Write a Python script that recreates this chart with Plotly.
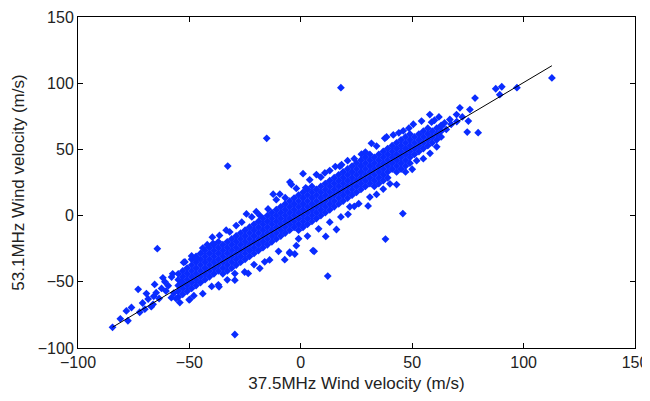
import plotly.graph_objects as go

# wind velocity pairs (m/s): 37.5MHz on x, 53.1MHz on y
# dense central band (solid in the picture), one column of points every 2 m/s
core_pts = [
    (-55, -61.6), (-55, -57.2), (-55, -52.8), (-55, -48.4), (-55, -44.0),
    (-53, -59.4), (-53, -55.0), (-53, -50.6), (-53, -46.2), (-53, -41.8),
    (-51, -57.2), (-51, -52.8), (-51, -48.4), (-51, -44.0), (-51, -39.6),
    (-49, -55.0), (-49, -50.6), (-49, -46.2), (-49, -41.8), (-49, -37.4), (-49, -33.0),
    (-47, -52.8), (-47, -48.4), (-47, -44.0), (-47, -39.6), (-47, -35.2), (-47, -30.8),
    (-45, -50.6), (-45, -46.2), (-45, -41.8), (-45, -37.4), (-45, -33.0), (-45, -28.6),
    (-43, -48.4), (-43, -44.0), (-43, -39.6), (-43, -35.2), (-43, -30.8), (-43, -26.4),
    (-41, -46.2), (-41, -41.8), (-41, -37.4), (-41, -33.0), (-41, -28.6), (-41, -24.2),
    (-39, -44.0), (-39, -39.6), (-39, -35.2), (-39, -30.8), (-39, -26.4), (-39, -22.0),
    (-37, -41.8), (-37, -37.4), (-37, -33.0), (-37, -28.6), (-37, -24.2), (-37, -19.8),
    (-35, -44.0), (-35, -39.6), (-35, -35.2), (-35, -30.8), (-35, -26.4), (-35, -22.0),
    (-33, -41.8), (-33, -37.4), (-33, -33.0), (-33, -28.6), (-33, -24.2), (-33, -19.8),
    (-31, -39.6), (-31, -35.2), (-31, -30.8), (-31, -26.4), (-31, -22.0), (-31, -17.6),
    (-29, -37.4), (-29, -33.0), (-29, -28.6), (-29, -24.2), (-29, -19.8), (-29, -15.4),
    (-27, -35.2), (-27, -30.8), (-27, -26.4), (-27, -22.0), (-27, -17.6), (-27, -13.2),
    (-25, -33.0), (-25, -28.6), (-25, -24.2), (-25, -19.8), (-25, -15.4), (-25, -11.0),
    (-23, -30.8), (-23, -26.4), (-23, -22.0), (-23, -17.6), (-23, -13.2), (-23, -8.8),
    (-21, -28.6), (-21, -24.2), (-21, -19.8), (-21, -15.4), (-21, -11.0), (-21, -6.6),
    (-19, -26.4), (-19, -22.0), (-19, -17.6), (-19, -13.2), (-19, -8.8), (-19, -4.4),
    (-17, -24.2), (-17, -19.8), (-17, -15.4), (-17, -11.0), (-17, -6.6), (-17, -2.2),
    (-15, -22.0), (-15, -17.6), (-15, -13.2), (-15, -8.8), (-15, -4.4), (-15, 0.0),
    (-13, -19.8), (-13, -15.4), (-13, -11.0), (-13, -6.6), (-13, -2.2), (-13, 2.2),
    (-11, -17.6), (-11, -13.2), (-11, -8.8), (-11, -4.4), (-11, 0.0), (-11, 4.4),
    (-9, -15.4), (-9, -11.0), (-9, -6.6), (-9, -2.2), (-9, 2.2), (-9, 6.6),
    (-7, -13.2), (-7, -8.8), (-7, -4.4), (-7, 0.0), (-7, 4.4), (-7, 8.8),
    (-5, -11.0), (-5, -6.6), (-5, -2.2), (-5, 2.2), (-5, 6.6), (-5, 11.0),
    (-3, -8.8), (-3, -4.4), (-3, 0.0), (-3, 4.4), (-3, 8.8), (-3, 13.2),
    (-1, -11.0), (-1, -6.6), (-1, -2.2), (-1, 2.2), (-1, 6.6), (-1, 11.0), (-1, 15.4),
    (1, -8.8), (1, -4.4), (1, 0.0), (1, 4.4), (1, 8.8), (1, 13.2), (1, 17.6),
    (3, -6.6), (3, -2.2), (3, 2.2), (3, 6.6), (3, 11.0), (3, 15.4), (3, 19.8),
    (5, -4.4), (5, 0.0), (5, 4.4), (5, 8.8), (5, 13.2), (5, 17.6), (5, 22.0),
    (7, -2.2), (7, 2.2), (7, 6.6), (7, 11.0), (7, 15.4), (7, 19.8),
    (9, 0.0), (9, 4.4), (9, 8.8), (9, 13.2), (9, 17.6), (9, 22.0),
    (11, 2.2), (11, 6.6), (11, 11.0), (11, 15.4), (11, 19.8), (11, 24.2),
    (13, 4.4), (13, 8.8), (13, 13.2), (13, 17.6), (13, 22.0), (13, 26.4),
    (15, 6.6), (15, 11.0), (15, 15.4), (15, 19.8), (15, 24.2), (15, 28.6),
    (17, 8.8), (17, 13.2), (17, 17.6), (17, 22.0), (17, 26.4), (17, 30.8),
    (19, 11.0), (19, 15.4), (19, 19.8), (19, 24.2), (19, 28.6), (19, 33.0),
    (21, 13.2), (21, 17.6), (21, 22.0), (21, 26.4), (21, 30.8), (21, 35.2),
    (23, 15.4), (23, 19.8), (23, 24.2), (23, 28.6), (23, 33.0), (23, 37.4),
    (25, 17.6), (25, 22.0), (25, 26.4), (25, 30.8), (25, 35.2), (25, 39.6),
    (27, 19.8), (27, 24.2), (27, 28.6), (27, 33.0), (27, 37.4), (27, 41.8),
    (29, 22.0), (29, 26.4), (29, 30.8), (29, 35.2), (29, 39.6), (29, 44.0),
    (31, 24.2), (31, 28.6), (31, 33.0), (31, 37.4), (31, 41.8), (31, 46.2),
    (33, 22.0), (33, 26.4), (33, 30.8), (33, 35.2), (33, 39.6), (33, 44.0),
    (35, 24.2), (35, 28.6), (35, 33.0), (35, 37.4), (35, 41.8), (35, 46.2),
    (37, 26.4), (37, 30.8), (37, 35.2), (37, 39.6), (37, 44.0), (37, 48.4),
    (39, 28.6), (39, 33.0), (39, 37.4), (39, 41.8), (39, 46.2), (39, 50.6),
    (41, 35.2), (41, 39.6), (41, 44.0), (41, 48.4), (41, 52.8),
    (43, 33.0), (43, 37.4), (43, 41.8), (43, 46.2), (43, 50.6), (43, 55.0),
    (45, 35.2), (45, 39.6), (45, 44.0), (45, 48.4), (45, 52.8), (45, 57.2),
    (47, 37.4), (47, 41.8), (47, 46.2), (47, 50.6), (47, 55.0), (47, 59.4),
    (49, 39.6), (49, 44.0), (49, 48.4), (49, 52.8), (49, 57.2), (49, 61.6),
    (51, 46.2), (51, 50.6), (51, 55.0), (51, 59.4),
    (53, 48.4), (53, 52.8), (53, 57.2), (53, 61.6),
    (55, 50.6), (55, 55.0), (55, 59.4), (55, 63.8),
    (57, 52.8), (57, 57.2), (57, 61.6), (57, 66.0),
    (59, 55.0), (59, 59.4), (59, 63.8),
    (61, 57.2), (61, 61.6), (61, 66.0),
    (63, 59.4), (63, 63.8), (63, 68.2),
]

# ragged edges of the cloud and the sparse tails
edge_pts = [
    (-84.5, -84.4), (-81.0, -78.0), (-78.3, -72.0), (-77.6, -79.4), (-76.0, -69.4),
    (-73.0, -55.7), (-72.3, -73.0), (-71.0, -66.0), (-70.0, -70.7), (-69.3, -58.9),
    (-68.5, -63.0), (-67.1, -68.8), (-66.3, -67.0), (-66.0, -61.0), (-65.6, -52.0),
    (-64.9, -58.2), (-63.6, -62.6), (-62.5, -55.0), (-61.9, -47.0), (-61.0, -50.0),
    (-60.5, -57.0), (-59.5, -53.0), (-58.1, -62.0), (-58.0, -46.4), (-57.5, -44.0),
    (-57.0, -58.5), (-56.0, -62.6), (-54.3, -65.7), (-53.6, -50.7), (-52.6, -35.4),
    (-50.1, -63.6), (-49.8, -63.2), (-48.0, -60.5), (-44.0, -59.0), (-40.0, -53.5),
    (-37.0, -52.3), (-36.7, -53.8), (-33.0, -48.5), (-29.6, -48.8), (-29.6, -43.8),
    (-25.2, -42.6), (-23.6, -43.7), (-21.0, -37.0), (-18.4, -39.8), (-16.2, -34.9),
    (-14.0, -33.5), (-10.0, -27.0), (-7.2, -33.3), (-5.0, -27.7), (-4.9, -28.6),
    (-2.7, -29.0), (-2.0, -22.7), (-1.0, -17.5), (3.0, -15.5), (5.5, -26.4),
    (6.0, -27.0), (8.0, -10.0), (11.2, -15.7), (13.0, -5.0), (16.0, -10.5),
    (18.0, -1.0), (21.2, 1.0), (22.0, 6.7), (24.0, 7.0), (26.0, 9.0),
    (30.2, 7.3), (31.0, 14.0), (34.0, 16.0), (37.0, 20.0), (40.0, 24.0),
    (43.0, 23.4), (47.0, 33.0), (50.0, 35.0), (52.0, 41.5), (55.0, 43.0),
    (58.0, 47.0), (61.0, 52.0),
    (-52.0, -35.0), (-49.0, -30.5), (-46.9, -32.4), (-44.0, -24.5), (-42.0, -22.0),
    (-39.7, -16.3), (-39.4, -21.0), (-36.5, -15.0), (-33.5, -11.0), (-31.9, -12.3),
    (-29.0, -7.5), (-26.5, -5.0), (-24.4, 1.3), (-22.0, -1.0), (-20.0, 3.0),
    (-18.4, 0.1), (-14.7, 5.0), (-12.4, 16.2), (-11.0, 12.0), (-9.4, 16.2),
    (-7.0, 13.5), (-4.9, 25.3), (-4.2, 23.4), (-2.0, 20.5), (2.2, 21.0),
    (1.0, 31.7), (4.0, 27.0), (7.0, 31.0), (9.0, 29.0), (10.8, 32.2),
    (13.0, 34.0), (15.5, 37.0), (17.5, 37.2), (18.3, 38.4), (21.0, 41.5),
    (24.0, 43.0), (27.2, 46.4), (29.0, 48.0), (31.7, 54.6), (34.0, 52.5),
    (37.7, 58.4), (38.5, 59.4), (41.5, 60.9), (44.0, 62.5), (46.0, 64.0),
    (48.5, 66.0), (50.5, 69.0), (54.2, 71.4), (57.9, 76.3), (58.7, 70.6),
    (60.0, 72.0), (62.0, 74.5), (63.2, 67.6), (64.5, 70.0), (65.3, 65.1),
    (66.9, 72.6), (67.5, 69.0), (69.9, 76.3), (70.0, 71.0), (71.4, 81.4),
    (72.5, 74.5), (74.7, 63.1), (75.2, 71.4), (75.9, 80.1), (78.2, 88.8),
    (79.6, 62.6), (87.5, 95.8), (89.3, 91.3), (90.2, 97.3), (97.0, 96.6),
]

# isolated outliers
outlier_pts = [
    (-64.4, -25.0), (-32.8, 37.4), (-15.3, 58.4), (18.0, 96.6), (-29.6, -89.8),
    (12.1, -45.7), (45.8, 1.5), (38.0, -17.7), (112.7, 104.0),
]

# fitted line
fit_x = [-84.5, -40.0, 0.0, 40.0, 80.0, 112.7]
fit_y = [-84.3, -39.4, 0.8, 40.9, 80.5, 113.2]

pts = core_pts + edge_pts + outlier_pts
vel_375 = [p[0] for p in pts]
vel_531 = [p[1] for p in pts]

fig = go.Figure()
fig.add_trace(go.Scatter(x=vel_375, y=vel_531, mode='markers',
                         marker=dict(symbol='diamond', size=6, color='#0a2cff',
                                     line=dict(width=0))))
fig.add_trace(go.Scatter(x=fit_x, y=fit_y, mode='lines',
                         line=dict(color='black', width=1)))

tick_font = dict(family='Liberation Sans', size=16, color='#222')
title_font = dict(family='Liberation Sans', size=17, color='#222')
axis_style = dict(range=[-100, 150], dtick=50, ticks='inside', ticklen=5,
                  tickcolor='black', showline=True, linecolor='black', linewidth=1,
                  mirror='ticks', showgrid=False, zeroline=False,
                  ticklabeloverflow='allow', tickfont=tick_font)

fig.update_xaxes(**axis_style,
                 title=dict(text='37.5MHz Wind velocity (m/s)', standoff=6, font=title_font))
fig.update_yaxes(**axis_style,
                 title=dict(text='53.1MHz Wind velocity (m/s)', standoff=8, font=title_font))

# the page body adds an 8px margin, so keep the figure inside the window
fig.update_layout(width=642, height=385, showlegend=False,
                  margin=dict(l=70, r=15, t=9, b=45, autoexpand=False),
                  plot_bgcolor='white', paper_bgcolor='white')

fig.write_html("out.html")
